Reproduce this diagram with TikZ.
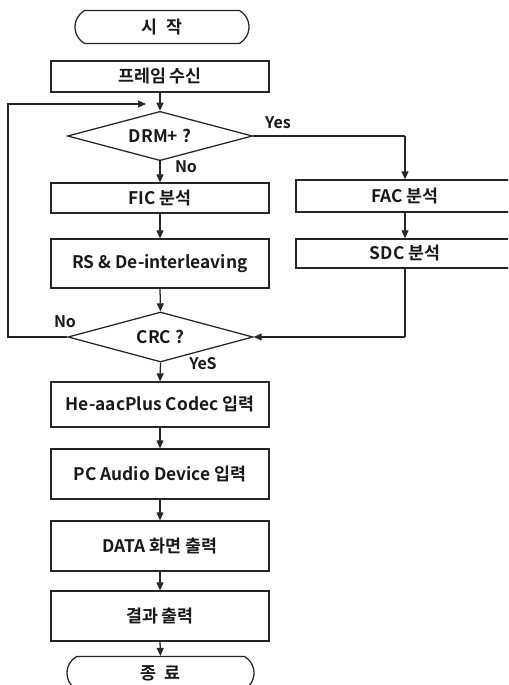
\documentclass[tikz,border=0pt]{standalone}
\usepackage{fontspec}
\newfontfamily\kr{Noto Sans CJK KR}[BoldFont={* Bold}]
\usetikzlibrary{shapes.geometric,shapes.misc,arrows.meta}
\begin{document}
\begin{tikzpicture}[x=0.75pt,y=-0.75pt,
  every node/.style={font=\kr\bfseries\fontsize{13}{15}\selectfont, text=black!90, inner sep=0pt},
  line/.style={draw=black!85, line width=0.95pt},
  arr/.style={line, -{Triangle[length=6pt,width=5.2pt]}},
  procbox/.style={line, rectangle, minimum width=163.5pt},
  term/.style={line, rounded rectangle, rounded rectangle arc length=120, minimum height=24.75pt},
  decide/.style={line, diamond, aspect=3.8, minimum width=138.75pt, minimum height=37pt},
  lbl/.style={font=\kr\bfseries\fontsize{12}{14}\selectfont}
]
\clip (0,0) rectangle (508,685);
\useasboundingbox (0,0) rectangle (508,685);
\fill[white] (0,0) rectangle (508,685);

\node[term, minimum width=130.5pt] (start) at (162,27) {시\hspace{0.55em}작};
\node[procbox, minimum height=23.25pt] (recv) at (160,76.5) {프레임 수신};
\node[decide] (drm) at (160,136) {DRM+ ?};
\node[procbox, minimum height=22.5pt] (fic) at (160,198) {FIC 분석};
\node[procbox, minimum height=36.75pt] (rs) at (160,263.5) {RS \& De-interleaving};
\node[decide, minimum width=138.75pt, minimum height=37.5pt] (crc) at (160.5,337) {CRC ?};
\node[procbox, minimum height=24pt] (fac) at (405,196) {FAC 분석};
\node[procbox, minimum height=21.75pt] (sdc) at (405,253.5) {SDC 분석};
\node[procbox, minimum height=33.75pt] (he) at (160,404.5) {He-aacPlus Codec 입력};
\node[procbox, minimum height=37.5pt] (pc) at (160,474) {PC Audio Device 입력};
\node[procbox, minimum height=37.5pt] (data) at (160,546) {DATA 화면 출력};
\node[procbox, minimum height=37.5pt] (res) at (160,616) {결과 출력};
\node[term, minimum width=140.25pt] (end) at (160.5,673) {종\hspace{0.45em}료};

\coordinate (loopin) at (146,104);
\coordinate (yesturn) at (405,136);
\coordinate (sdcturn) at (405,337);
\coordinate (nobot) at (8,337);
\coordinate (notop) at (8,104);

\draw[arr] (recv.south) -- (drm.north);
\draw[arr] (drm.south) -- (fic.north);
\draw[line] (drm.east) -- (yesturn);
\draw[arr] (yesturn) -- (fac.north);
\draw[arr] (fac.south) -- (sdc.north);
\draw[arr] (fic.south) -- (rs.north);
\draw[arr] (rs.south) -- (crc.north);
\draw[line] (sdc.south) -- (sdcturn);
\draw[arr] (sdcturn) -- (crc.east);
\draw[arr] (crc.west) -- (nobot) -- (notop) -- (loopin);
\draw[arr] (crc.south) -- (he.north);
\draw[arr] (he.south) -- (pc.north);
\draw[arr] (pc.south) -- (data.north);
\draw[arr] (data.south) -- (res.north);
\draw[arr] (res.south) -- (end.north);

\node[lbl] (lyes) at (278,123) {Yes};
\node[lbl] (lno1) at (186,167) {No};
\node[lbl] (lno2) at (65,322) {No};
\node[lbl] (lyes2) at (203,364) {YeS};
\end{tikzpicture}
\end{document}
